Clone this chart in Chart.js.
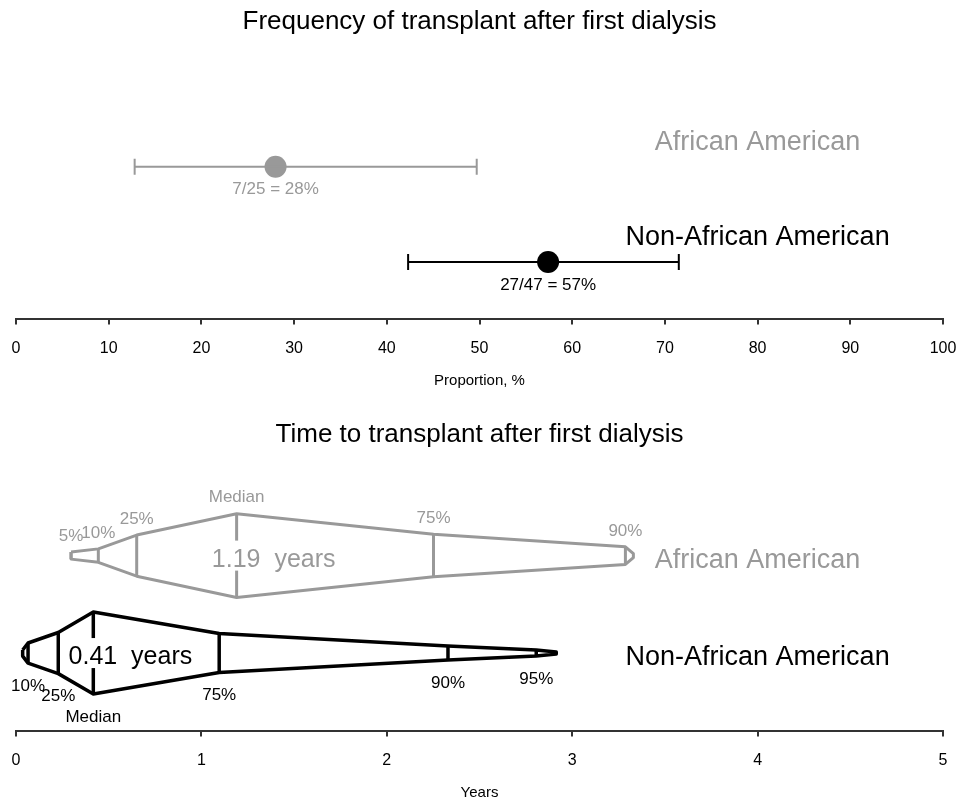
<!DOCTYPE html>
<html>
<head>
<meta charset="utf-8">
<script src="https://cdn.jsdelivr.net/npm/chart.js@4.4.1/dist/chart.umd.min.js"></script>
<style>
    html, body { margin: 0; padding: 0; background: #fff; }
    canvas { display: block; }
</style>
</head>
<body>
<canvas id="freqChart" width="965" height="412"></canvas>
<canvas id="timeChart" width="965" height="392"></canvas>
<script>
const FONT = '"Liberation Sans", Arial, Helvetica, sans-serif';
const GRAY = '#999999';
const BLACK = '#000000';

const GROUPS = ['African American', 'Non-African American'];
const GROUP_COLORS = [GRAY, BLACK];
const ROWS = [2, 1];

// frequency of transplant, proportion %
const FREQ_EST = [28.0, 57.4];
const FREQ_LO = [12.8, 42.3];
const FREQ_HI = [49.7, 71.5];
const FREQ_TEXT = ['7/25 = 28%', '27/47 = 57%'];

// time to transplant, years: quantiles and half-widths of the shape
const AA_Q_LABELS = ['5%', '10%', '25%', 'Median', '75%', '90%'];
const AA_Q_YEARS = [0.297, 0.444, 0.651, 1.19, 2.252, 3.287];
const AA_Q_HALF = [0.036, 0.069, 0.211, 0.429, 0.218, 0.090];
const AA_ENDS = [[0.297, 0.036], [3.33, 0.02]];

const NAA_Q_LABELS = ['10%', '25%', 'Median', '75%', '90%', '95%'];
const NAA_Q_YEARS = [0.065, 0.228, 0.417, 1.096, 2.33, 2.806];
const NAA_Q_HALF = [0.103, 0.211, 0.421, 0.200, 0.072, 0.031];
const NAA_ENDS = [[0.036, 0.031], [2.914, 0.01]];

const MEDIAN_TEXT = ['1.19  years', '0.41  years'];

const annotations = {
    id: 'annotations',
    afterDatasetsDraw(chart, args, opts) {
        const { ctx, scales: { x, y } } = chart;
        ctx.save();
        (opts.items || []).forEach((it) => {
            const px = x.getPixelForValue(it.x) + (it.dx || 0);
            const py = y.getPixelForValue(it.y) + (it.dy || 0);
            if (it.maskX !== undefined) {
                const mx = x.getPixelForValue(it.maskX);
                const my = y.getPixelForValue(it.y);
                ctx.fillStyle = '#fff';
                ctx.fillRect(mx - 4, my - 15, 8, 30);
            }
            ctx.font = `${it.size}px ${FONT}`;
            ctx.fillStyle = it.color;
            ctx.textAlign = 'center';
            ctx.textBaseline = 'middle';
            ctx.fillText(it.text, px, py);
        });
        ctx.restore();
    },
};

function xAxis(max, step, title) {
    return {
        type: 'linear', min: 0, max,
        ticks: { stepSize: step, padding: 3, color: '#000', font: { family: FONT, size: 16, lineHeight: 2.6 } },
        grid: { drawOnChartArea: false, drawTicks: true, tickLength: 5, color: '#333', lineWidth: 2 },
        border: { display: true, color: '#333', width: 2 },
        title: { display: true, text: title, color: '#000', padding: { top: 0, bottom: 0 }, font: { family: FONT, size: 15 } },
    };
}

function baseOptions(titleText, padTop, padBottom, yMin, yMax, xScale, items) {
    return {
        responsive: false,
        animation: false,
        layout: { padding: { left: 16, right: 22, top: 0, bottom: padBottom } },
        scales: {
            x: xScale,
            y: { type: 'linear', display: false, min: yMin, max: yMax },
        },
        plugins: {
            legend: { display: false },
            tooltip: { enabled: false },
            title: {
                display: true, text: titleText, color: '#000',
                font: { family: FONT, size: 26, weight: 'normal' },
                padding: { top: padTop, bottom: 60 - padTop - 31.2 },
            },
            annotations: { items },
        },
    };
}

// ---- top chart
const freqDatasets = [];
const freqItems = [];
GROUPS.forEach((g, i) => {
    freqDatasets.push({
        type: 'line',
        data: [{ x: FREQ_LO[i], y: ROWS[i] }, { x: FREQ_HI[i], y: ROWS[i] }],
        borderColor: GROUP_COLORS[i], borderWidth: 2,
        pointStyle: 'line', pointRotation: 90, pointRadius: 8,
        pointBorderColor: GROUP_COLORS[i], pointBorderWidth: 2,
    });
    freqDatasets.push({
        type: 'scatter',
        data: [{ x: FREQ_EST[i], y: ROWS[i] }],
        pointRadius: 11, backgroundColor: GROUP_COLORS[i], borderWidth: 0,
    });
    freqItems.push({ text: g, x: 80, y: ROWS[i], dy: -24.5, size: 27, color: GROUP_COLORS[i] });
    freqItems.push({ text: FREQ_TEXT[i], x: FREQ_EST[i], y: ROWS[i], dy: 23, size: 17, color: GROUP_COLORS[i] });
});

new Chart(document.getElementById('freqChart'), {
    type: 'line',
    data: { datasets: freqDatasets },
    options: baseOptions('Frequency of transplant after first dialysis', 6, 22, 0.398, 3.119,
        xAxis(100, 10, 'Proportion, %'), freqItems),
    plugins: [annotations],
});

// ---- bottom chart
function outline(row, qx, qh, ends) {
    const [l, r] = ends;
    const top = [l, ...qx.map((x, i) => [x, qh[i]]), r];
    const upper = top.map(([x, h]) => ({ x, y: row + h }));
    const lower = top.slice().reverse().map(([x, h]) => ({ x, y: row - h }));
    return [...upper, ...lower, upper[0]];
}

function quantileLines(row, qx, qh) {
    const pts = [];
    qx.forEach((x, i) => {
        pts.push({ x, y: row - qh[i] }, { x, y: row + qh[i] }, { x, y: null });
    });
    return pts;
}

const SHAPES = [
    { labels: AA_Q_LABELS, years: AA_Q_YEARS, half: AA_Q_HALF, ends: AA_ENDS, width: 3, above: true },
    { labels: NAA_Q_LABELS, years: NAA_Q_YEARS, half: NAA_Q_HALF, ends: NAA_ENDS, width: 3.5, above: false },
];

const timeDatasets = [];
const timeItems = [];
SHAPES.forEach((s, i) => {
    const row = ROWS[i];
    const color = GROUP_COLORS[i];
    const common = {
        type: 'line', borderColor: color, borderWidth: s.width, pointRadius: 0,
        borderJoinStyle: 'round', borderCapStyle: 'butt', fill: false, tension: 0,
    };
    timeDatasets.push({ ...common, data: outline(row, s.years, s.half, s.ends) });
    timeDatasets.push({ ...common, spanGaps: false, data: quantileLines(row, s.years, s.half) });

    s.labels.forEach((lab, k) => {
        timeItems.push({
            text: lab, x: s.years[k],
            y: s.above ? row + s.half[k] : row - s.half[k],
            dy: s.above ? -16 : 23, size: 17, color,
        });
    });
    const med = s.years[s.labels.indexOf('Median')];
    timeItems.push({ text: MEDIAN_TEXT[i], x: med + 0.2, maskX: med, y: row, dy: 4.5, size: 25, color });
    timeItems.push({ text: GROUPS[i], x: 4, y: row, dy: 4.5, size: 27, color });
});

new Chart(document.getElementById('timeChart'), {
    type: 'line',
    data: { datasets: timeDatasets },
    options: baseOptions('Time to transplant after first dialysis', 7, 2, 0.196, 2.858,
        xAxis(5, 1, 'Years'), timeItems),
    plugins: [annotations],
});
</script>
</body>
</html>
